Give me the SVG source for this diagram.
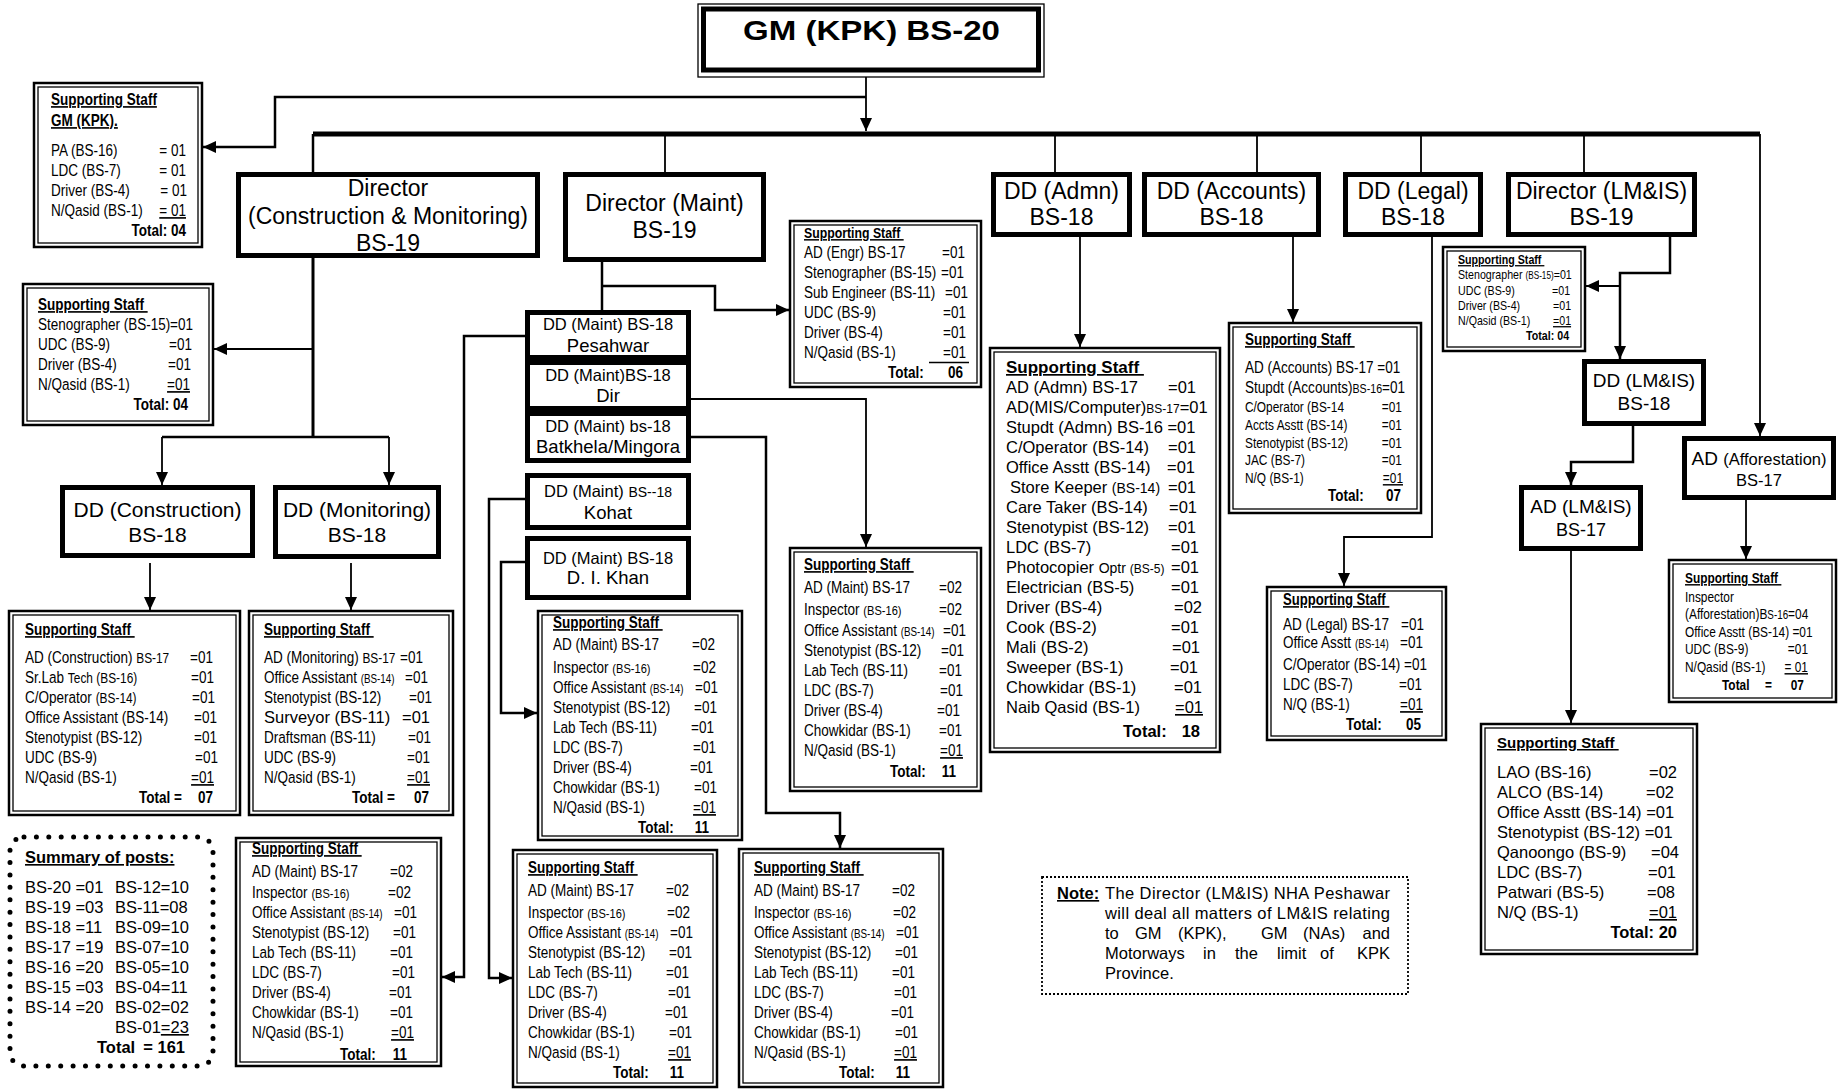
<svg xmlns="http://www.w3.org/2000/svg" width="1844" height="1090" viewBox="0 0 1844 1090" font-size="16.5">
<defs>
<marker id="ah" markerUnits="userSpaceOnUse" markerWidth="14" markerHeight="14" viewBox="0 0 14 14" refX="13" refY="7" orient="auto"><path d="M0,1 L13,7 L0,13 z" fill="#000"/></marker>
<style>
.bx{fill:#fff;stroke:#000;stroke-width:5}
.so{fill:#fff;stroke:#000;stroke-width:2.5}
.si{fill:none;stroke:#000;stroke-width:1.3}
.ln{fill:none;stroke:#000;stroke-width:2.5}
.lt{fill:none;stroke:#000;stroke-width:1.8}
.ar{marker-end:url(#ah)}
text{font-family:'Liberation Sans',Arial,sans-serif;fill:#000}
.n{transform-box:fill-box;transform-origin:0 0;transform:scaleX(0.82)}
.n.e{transform-origin:100% 0}
.b{font-weight:bold}
.u{text-decoration:underline}
.e{text-anchor:end}
.m{text-anchor:middle}
.big{font-size:23px}
.md{font-size:21px}
</style>
</defs>
<rect width="1844" height="1090" fill="#fff"/>

<g id="connectors">
<path class="lt ar" d="M866,72 V131"/>
<path class="ln ar" d="M866,97 H275 V147 H203"/>
<path d="M313,134 H1760" fill="none" stroke="#000" stroke-width="5"/>
<path class="ln" d="M313,134 V172"/>
<path class="lt" d="M665,134 V172 M1055,134 V172 M1257,134 V172 M1421,134 V172 M1584,134 V172"/>
<path class="lt ar" d="M1760,134 V436"/>
<path d="M313,258 V437" fill="none" stroke="#000" stroke-width="3"/>
<path class="lt ar" d="M313,349 H214"/>
<path class="ln" d="M162,437 H389"/>
<path class="lt ar" d="M162,437 V485"/>
<path class="lt ar" d="M389,437 V485"/>
<path class="lt ar" d="M150,563 V610"/>
<path class="lt ar" d="M351,563 V610"/>
<path class="ln" d="M602,262 V310"/>
<path class="ln ar" d="M602,286 H715 V310 H789"/>
<path class="ln ar" d="M525,336 H464 V977 H442"/>
<path class="lt ar" d="M691,399 H866 V547"/>
<path class="ln ar" d="M691,437 H766 V813 H840 V848"/>
<path class="ln ar" d="M525,499 H489 V978 H512"/>
<path class="ln ar" d="M525,562 H501 V713 H537"/>
<path class="lt ar" d="M1080,237 V347"/>
<path class="lt ar" d="M1293,237 V322"/>
<path class="lt ar" d="M1432,237 V537 H1344 V586"/>
<path class="ln ar" d="M1670,237 V273 H1620 V359"/>
<path class="lt ar" d="M1620,286 H1586"/>
<path class="ln ar" d="M1633,426 V462 H1571 V485"/>
<path class="lt ar" d="M1571,551 V723"/>
<path class="lt ar" d="M1746,500 V559"/>
</g>

<g id="gm">
<rect x="698" y="4" width="346" height="73" fill="#fff" stroke="#000" stroke-width="1.3"/>
<rect x="703.5" y="9" width="335" height="61" fill="none" stroke="#000" stroke-width="5"/>
<text class="b" x="743" y="39.5" font-size="28" textLength="257" lengthAdjust="spacingAndGlyphs">GM (KPK) BS-20</text>
</g>

<g id="dir-cm">
<rect class="bx" x="238.5" y="174.5" width="299" height="81"/>
<text class="m big" x="388" y="196">Director</text>
<text class="m big" x="388" y="224">(Construction &amp; Monitoring)</text>
<text class="m big" x="388" y="251">BS-19</text>
</g>
<g id="dir-maint">
<rect class="bx" x="565.5" y="174.5" width="198" height="85"/>
<text class="m big" x="664.5" y="211">Director (Maint)</text>
<text class="m big" x="664.5" y="238">BS-19</text>
</g>
<g id="dd-admn">
<rect class="bx" x="993.5" y="174.5" width="136" height="60"/>
<text class="m big" x="1061.5" y="199">DD (Admn)</text>
<text class="m big" x="1061.5" y="225">BS-18</text>
</g>
<g id="dd-accounts">
<rect class="bx" x="1144.5" y="174.5" width="174" height="60"/>
<text class="m big" x="1231.5" y="199">DD (Accounts)</text>
<text class="m big" x="1231.5" y="225">BS-18</text>
</g>
<g id="dd-legal">
<rect class="bx" x="1345.5" y="174.5" width="135" height="60"/>
<text class="m big" x="1413" y="199">DD (Legal)</text>
<text class="m big" x="1413" y="225">BS-18</text>
</g>
<g id="dir-lmis">
<rect class="bx" x="1508.5" y="174.5" width="186" height="60"/>
<text class="m big" x="1601.5" y="199">Director (LM&amp;IS)</text>
<text class="m big" x="1601.5" y="225">BS-19</text>
</g>
<g id="dd-construction">
<rect class="bx" x="62.5" y="487.5" width="190" height="68"/>
<text class="m md" x="157.5" y="517">DD (Construction)</text>
<text class="m md" x="157.5" y="542">BS-18</text>
</g>
<g id="dd-monitoring">
<rect class="bx" x="275.5" y="487.5" width="163" height="69"/>
<text class="m md" x="357" y="517">DD (Monitoring)</text>
<text class="m md" x="357" y="542">BS-18</text>
</g>
<g id="dd-peshawar">
<rect class="bx" x="527.5" y="312.5" width="161" height="45"/>
<text class="m" x="608" y="330">DD (Maint) BS-18</text>
<text class="m" x="608" y="352" font-size="18.5">Pesahwar</text>
</g>
<g id="dd-dir">
<rect class="bx" x="527.5" y="362.5" width="161" height="46"/>
<text class="m" x="608" y="381">DD (Maint)BS-18</text>
<text class="m" x="608" y="402" font-size="18.5">Dir</text>
</g>
<g id="dd-batkhela">
<rect class="bx" x="527.5" y="413.5" width="161" height="47"/>
<text class="m" x="608" y="432">DD (Maint) bs-18</text>
<text class="m" x="608" y="453" font-size="18.5">Batkhela/Mingora</text>
</g>
<g id="dd-kohat">
<rect class="bx" x="527.5" y="475.5" width="161" height="52"/>
<text class="m" x="608" y="497">DD (Maint) <tspan font-size="14">BS--18</tspan></text>
<text class="m" x="608" y="519" font-size="18.5">Kohat</text>
</g>
<g id="dd-dikhan">
<rect class="bx" x="527.5" y="538.5" width="161" height="59"/>
<text class="m" x="608" y="564">DD (Maint) BS-18</text>
<text class="m" x="608" y="584" font-size="18.5">D. I. Khan</text>
</g>
<g id="dd-lmis">
<rect class="bx" x="1584.5" y="361.5" width="119" height="62"/>
<text class="m" x="1644" y="387" font-size="19">DD (LM&amp;IS)</text>
<text class="m" x="1644" y="410" font-size="19">BS-18</text>
</g>
<g id="ad-lmis">
<rect class="bx" x="1521.5" y="487.5" width="119" height="61"/>
<text class="m" x="1581" y="513" font-size="19">AD (LM&amp;IS)</text>
<text class="m" x="1581" y="536" font-size="18">BS-17</text>
</g>
<g id="ad-afforestation">
<rect class="bx" x="1684.5" y="438.5" width="149" height="59"/>
<text class="m" x="1759" y="465"><tspan font-size="19">AD </tspan>(Afforestation)</text>
<text class="m" x="1759" y="486">BS-17</text>
</g>

<g id="ss-gm">
<rect class="so" x="34" y="83" width="168" height="164"/>
<rect class="si" x="38" y="87" width="160" height="156"/>
<text class="n b u" x="51" y="105">Supporting Staff</text>
<text class="n b u" x="51" y="126">GM (KPK).</text>
<text class="n" x="51" y="156">PA (BS-16)</text><text class="n e" x="186" y="156">= 01</text>
<text class="n" x="51" y="176">LDC (BS-7)</text><text class="n e" x="186" y="176">= 01</text>
<text class="n" x="51" y="196">Driver (BS-4)</text><text class="n e" x="187" y="196">= 01</text>
<text class="n" x="51" y="216">N/Qasid (BS-1)</text><text class="n e u" x="186" y="216">= 01</text>
<text class="n b e" x="186" y="236">Total: 04</text>
</g>

<g id="ss-cm">
<rect class="so" x="23" y="284" width="190" height="141"/>
<rect class="si" x="27" y="288" width="182" height="133"/>
<text class="n b u" x="38" y="310">Supporting Staff&#160;</text>
<text class="n" x="38" y="330">Stenographer (BS-15)</text><text class="n e" x="193" y="330">=01</text>
<text class="n" x="38" y="350">UDC (BS-9)</text><text class="n e" x="192" y="350">=01</text>
<text class="n" x="38" y="370">Driver (BS-4)</text><text class="n e" x="191" y="370">=01</text>
<text class="n" x="38" y="390">N/Qasid (BS-1)</text><text class="n e u" x="190" y="390">=01</text>
<text class="n b e" x="188" y="410">Total: 04</text>
</g>

<g id="ss-construction">
<rect class="so" x="9" y="611" width="231" height="204"/>
<rect class="si" x="13" y="615" width="223" height="196"/>
<text class="n b u" x="25" y="635">Supporting Staff&#160;</text>
<text class="n" x="25" y="663">AD (Construction) <tspan font-size="14.5">BS-17</tspan></text><text class="n e" x="213" y="663">=01</text>
<text class="n" x="25" y="683">Sr.Lab <tspan font-size="14.5">Tech (BS-16)</tspan></text><text class="n e" x="214" y="683">=01</text>
<text class="n" x="25" y="703">C/Operator <tspan font-size="14.5">(BS-14)</tspan></text><text class="n e" x="215" y="703">=01</text>
<text class="n" x="25" y="723">Office Assistant (BS-14)</text><text class="n e" x="217" y="723">=01</text>
<text class="n" x="25" y="743">Stenotypist  (BS-12)</text><text class="n e" x="217" y="743">=01</text>
<text class="n" x="25" y="763">UDC (BS-9)</text><text class="n e" x="218" y="763">=01</text>
<text class="n" x="25" y="783">N/Qasid (BS-1)</text><text class="n e u" x="214" y="783">=01</text>
<text class="n b" x="139" y="803">Total =</text><text class="n b e" x="213" y="803">07</text>
</g>

<g id="ss-monitoring">
<rect class="so" x="249" y="611" width="204" height="204"/>
<rect class="si" x="253" y="615" width="196" height="196"/>
<text class="n b u" x="264" y="635">Supporting Staff&#160;</text>
<text class="n" x="264" y="663">AD (Monitoring) <tspan font-size="14.5">BS-17</tspan></text><text class="n e" x="423" y="663">=01</text>
<text class="n" x="264" y="683">Office Assistant <tspan font-size="12">(BS-14)</tspan></text><text class="n e" x="428" y="683">=01</text>
<text class="n" x="264" y="703">Stenotypist  (BS-12)</text><text class="n e" x="432" y="703">=01</text>
<text x="264" y="723">Surveyor (BS-11)</text><text class="e" x="430" y="723">=01</text>
<text class="n" x="264" y="743">Draftsman (BS-11)</text><text class="n e" x="431" y="743">=01</text>
<text class="n" x="264" y="763">UDC (BS-9)</text><text class="n e" x="430" y="763">=01</text>
<text class="n" x="264" y="783">N/Qasid (BS-1)</text><text class="n e u" x="430" y="783">=01</text>
<text class="n b" x="352" y="803">Total =</text><text class="n b e" x="429" y="803">07</text>
</g>

<g id="ss-peshawar">
<rect class="so" x="236" y="838" width="205" height="228"/>
<rect class="si" x="240" y="842" width="197" height="220"/>
<text class="n b u" x="252" y="854">Supporting Staff&#160;</text>
<text class="n" x="252" y="877">AD (Maint) BS-17</text><text class="n e" x="413" y="877">=02</text>
<text class="n" x="252" y="898">Inspector <tspan font-size="13.5">(BS-16)</tspan></text><text class="n e" x="411" y="898">=02</text>
<text class="n" x="252" y="918">Office Assistant  <tspan font-size="12">(BS-14)</tspan></text><text class="n e" x="417" y="918">=01</text>
<text class="n" x="252" y="938">Stenotypist (BS-12)</text><text class="n e" x="416" y="938">=01</text>
<text class="n" x="252" y="958">Lab Tech (BS-11)</text><text class="n e" x="413" y="958">=01</text>
<text class="n" x="252" y="978">LDC (BS-7)</text><text class="n e" x="415" y="978">=01</text>
<text class="n" x="252" y="998">Driver (BS-4)</text><text class="n e" x="412" y="998">=01</text>
<text class="n" x="252" y="1018">Chowkidar (BS-1)</text><text class="n e" x="413" y="1018">=01</text>
<text class="n" x="252" y="1038">N/Qasid (BS-1)</text><text class="n e u" x="414" y="1038">=01</text>
<text class="n b" x="340" y="1060">Total:</text><text class="n b e" x="407" y="1060">11</text>
</g>

<g id="ss-maint">
<rect class="so" x="790" y="221" width="191" height="166"/>
<rect class="si" x="794" y="225" width="183" height="158"/>
<text class="n b u" x="804" y="238" font-size="15">Supporting Staff&#160;</text>
<text class="n" x="804" y="258">AD (Engr) BS-17</text><text class="n e" x="965" y="258">=01</text>
<text class="n" x="804" y="278">Stenographer (BS-15)</text><text class="n e" x="964" y="278">=01</text>
<text class="n" x="804" y="298">Sub Engineer (BS-11)</text><text class="n e" x="968" y="298">=01</text>
<text class="n" x="804" y="318">UDC (BS-9)</text><text class="n e" x="966" y="318">=01</text>
<text class="n" x="804" y="338">Driver (BS-4)</text><text class="n e" x="966" y="338">=01</text>
<text class="n" x="804" y="358">N/Qasid (BS-1)</text><text class="n e" x="966" y="358">=01</text>
<path d="M929,362.5 H969" stroke="#000" stroke-width="1.3"/>
<text class="n b" x="888" y="378">Total:</text><text class="n b e" x="963" y="378">06</text>
</g>

<g id="ss-dir">
<rect class="so" x="790" y="548" width="191" height="243"/>
<rect class="si" x="794" y="552" width="183" height="235"/>
<text class="n b u" x="804" y="570">Supporting Staff&#160;</text>
<text class="n" x="804" y="593">AD (Maint) BS-17</text><text class="n e" x="962" y="593">=02</text>
<text class="n" x="804" y="615">Inspector <tspan font-size="13.5">(BS-16)</tspan></text><text class="n e" x="962" y="615">=02</text>
<text class="n" x="804" y="636">Office Assistant  <tspan font-size="12">(BS-14)</tspan></text><text class="n e" x="966" y="636">=01</text>
<text class="n" x="804" y="656">Stenotypist (BS-12)</text><text class="n e" x="964" y="656">=01</text>
<text class="n" x="804" y="676">Lab Tech (BS-11)</text><text class="n e" x="962" y="676">=01</text>
<text class="n" x="804" y="696">LDC (BS-7)</text><text class="n e" x="963" y="696">=01</text>
<text class="n" x="804" y="716">Driver (BS-4)</text><text class="n e" x="960" y="716">=01</text>
<text class="n" x="804" y="736">Chowkidar (BS-1)</text><text class="n e" x="962" y="736">=01</text>
<text class="n" x="804" y="756">N/Qasid (BS-1)</text><text class="n e u" x="963" y="756">=01</text>
<text class="n b" x="890" y="777">Total:</text><text class="n b e" x="956" y="777">11</text>
</g>

<g id="ss-dikhan">
<rect class="so" x="538" y="611" width="204" height="229"/>
<rect class="si" x="542" y="615" width="196" height="221"/>
<text class="n b u" x="553" y="628">Supporting Staff&#160;</text>
<text class="n" x="553" y="650">AD (Maint) BS-17</text><text class="n e" x="715" y="650">=02</text>
<text class="n" x="553" y="673">Inspector <tspan font-size="13.5">(BS-16)</tspan></text><text class="n e" x="716" y="673">=02</text>
<text class="n" x="553" y="693">Office Assistant  <tspan font-size="12">(BS-14)</tspan></text><text class="n e" x="718" y="693">=01</text>
<text class="n" x="553" y="713">Stenotypist (BS-12)</text><text class="n e" x="717" y="713">=01</text>
<text class="n" x="553" y="733">Lab Tech (BS-11)</text><text class="n e" x="714" y="733">=01</text>
<text class="n" x="553" y="753">LDC (BS-7)</text><text class="n e" x="716" y="753">=01</text>
<text class="n" x="553" y="773">Driver (BS-4)</text><text class="n e" x="713" y="773">=01</text>
<text class="n" x="553" y="793">Chowkidar (BS-1)</text><text class="n e" x="717" y="793">=01</text>
<text class="n" x="553" y="813">N/Qasid (BS-1)</text><text class="n e u" x="716" y="813">=01</text>
<text class="n b" x="638" y="833">Total:</text><text class="n b e" x="709" y="833">11</text>
</g>

<g id="ss-kohat">
<rect class="so" x="513" y="850" width="204" height="237"/>
<rect class="si" x="517" y="854" width="196" height="229"/>
<text class="n b u" x="528" y="873">Supporting Staff&#160;</text>
<text class="n" x="528" y="896">AD (Maint) BS-17</text><text class="n e" x="689" y="896">=02</text>
<text class="n" x="528" y="918">Inspector <tspan font-size="13.5">(BS-16)</tspan></text><text class="n e" x="690" y="918">=02</text>
<text class="n" x="528" y="938">Office Assistant  <tspan font-size="12">(BS-14)</tspan></text><text class="n e" x="693" y="938">=01</text>
<text class="n" x="528" y="958">Stenotypist (BS-12)</text><text class="n e" x="692" y="958">=01</text>
<text class="n" x="528" y="978">Lab Tech (BS-11)</text><text class="n e" x="689" y="978">=01</text>
<text class="n" x="528" y="998">LDC (BS-7)</text><text class="n e" x="691" y="998">=01</text>
<text class="n" x="528" y="1018">Driver (BS-4)</text><text class="n e" x="688" y="1018">=01</text>
<text class="n" x="528" y="1038">Chowkidar (BS-1)</text><text class="n e" x="692" y="1038">=01</text>
<text class="n" x="528" y="1058">N/Qasid (BS-1)</text><text class="n e u" x="691" y="1058">=01</text>
<text class="n b" x="613" y="1078">Total:</text><text class="n b e" x="684" y="1078">11</text>
</g>

<g id="ss-batkhela">
<rect class="so" x="739" y="849" width="204" height="238"/>
<rect class="si" x="743" y="853" width="196" height="230"/>
<text class="n b u" x="754" y="873">Supporting Staff&#160;</text>
<text class="n" x="754" y="896">AD (Maint) BS-17</text><text class="n e" x="915" y="896">=02</text>
<text class="n" x="754" y="918">Inspector <tspan font-size="13.5">(BS-16)</tspan></text><text class="n e" x="916" y="918">=02</text>
<text class="n" x="754" y="938">Office Assistant  <tspan font-size="12">(BS-14)</tspan></text><text class="n e" x="919" y="938">=01</text>
<text class="n" x="754" y="958">Stenotypist (BS-12)</text><text class="n e" x="918" y="958">=01</text>
<text class="n" x="754" y="978">Lab Tech (BS-11)</text><text class="n e" x="915" y="978">=01</text>
<text class="n" x="754" y="998">LDC (BS-7)</text><text class="n e" x="917" y="998">=01</text>
<text class="n" x="754" y="1018">Driver (BS-4)</text><text class="n e" x="914" y="1018">=01</text>
<text class="n" x="754" y="1038">Chowkidar (BS-1)</text><text class="n e" x="918" y="1038">=01</text>
<text class="n" x="754" y="1058">N/Qasid (BS-1)</text><text class="n e u" x="917" y="1058">=01</text>
<text class="n b" x="839" y="1078">Total:</text><text class="n b e" x="910" y="1078">11</text>
</g>

<g id="ss-admn">
<rect class="so" x="990" y="348" width="230" height="404"/>
<rect class="si" x="994" y="352" width="222" height="396"/>
<text class="b u" x="1006" y="373" font-size="17">Supporting Staff&#160;</text>
<text x="1006" y="393">AD (Admn) BS-17</text><text class="e" x="1196" y="393">=01</text>
<text x="1006" y="413">AD(MIS/Computer)<tspan font-size="12">BS-17</tspan>=01</text>
<text x="1006" y="433">Stupdt (Admn) BS-16 =01</text>
<text x="1006" y="453">C/Operator (BS-14)</text><text class="e" x="1196" y="453">=01</text>
<text x="1006" y="473">Office Asstt (BS-14)</text><text class="e" x="1195" y="473">=01</text>
<text x="1010" y="493">Store Keeper <tspan font-size="14">(BS-14)</tspan></text><text class="e" x="1196" y="493">=01</text>
<text x="1006" y="513">Care Taker (BS-14)</text><text class="e" x="1197" y="513">=01</text>
<text x="1006" y="533">Stenotypist (BS-12)</text><text class="e" x="1196" y="533">=01</text>
<text x="1006" y="553">LDC (BS-7)</text><text class="e" x="1199" y="553">=01</text>
<text x="1006" y="573">Photocopier <tspan font-size="14">Optr </tspan><tspan font-size="12">(BS-5)</tspan></text><text class="e" x="1199" y="573">=01</text>
<text x="1006" y="593">Electrician (BS-5)</text><text class="e" x="1199" y="593">=01</text>
<text x="1006" y="613">Driver (BS-4)</text><text class="e" x="1202" y="613">=02</text>
<text x="1006" y="633">Cook (BS-2)</text><text class="e" x="1199" y="633">=01</text>
<text x="1006" y="653">Mali (BS-2)</text><text class="e" x="1200" y="653">=01</text>
<text x="1006" y="673">Sweeper (BS-1)</text><text class="e" x="1198" y="673">=01</text>
<text x="1006" y="693">Chowkidar (BS-1)</text><text class="e" x="1202" y="693">=01</text>
<text x="1006" y="713">Naib Qasid (BS-1)</text><text class="e u" x="1203" y="713">=01</text>
<text class="b" x="1123" y="737">Total:</text><text class="b e" x="1200" y="737">18</text>
</g>

<g id="ss-accounts">
<rect class="so" x="1229" y="323" width="192" height="190"/>
<rect class="si" x="1233" y="327" width="184" height="182"/>
<text class="n b u" x="1245" y="345">Supporting Staff&#160;</text>
<text class="n" x="1245" y="373">AD (Accounts) BS-17 =01</text>
<text class="n" x="1245" y="393">Stupdt (Accounts)<tspan font-size="13">BS-16</tspan>=01</text>
<text class="n" x="1245" y="412" font-size="14.5">C/Operator (BS-14</text><text class="n e" x="1402" y="412" font-size="14.5">=01</text>
<text class="n" x="1245" y="430" font-size="14.5">Accts Asstt (BS-14)</text><text class="n e" x="1402" y="430" font-size="14.5">=01</text>
<text class="n" x="1245" y="448" font-size="14.5">Stenotypist (BS-12)</text><text class="n e" x="1402" y="448" font-size="14.5">=01</text>
<text class="n" x="1245" y="465" font-size="14.5">JAC  (BS-7)</text><text class="n e" x="1402" y="465" font-size="14.5">=01</text>
<text class="n" x="1245" y="483" font-size="14.5">N/Q (BS-1)</text><text class="n e u" x="1403" y="483" font-size="14.5">=01</text>
<text class="n b" x="1328" y="501">Total:</text><text class="n b e" x="1401" y="501">07</text>
</g>

<g id="ss-legal">
<rect class="so" x="1267" y="587" width="179" height="153"/>
<rect class="si" x="1271" y="591" width="171" height="145"/>
<text class="n b u" x="1283" y="605" font-size="16">Supporting Staff&#160;</text>
<text class="n" x="1283" y="630" font-size="16.5">AD (Legal) BS-17</text><text class="n e" x="1424" y="630" font-size="16.5">=01</text>
<text class="n" x="1283" y="648" font-size="16.5">Office Asstt <tspan font-size="12">(BS-14)</tspan></text><text class="n e" x="1423" y="648" font-size="16.5">=01</text>
<text class="n" x="1283" y="670" font-size="16.5">C/Operator (BS-14)</text><text class="n e" x="1427" y="670" font-size="16.5">=01</text>
<text class="n" x="1283" y="690" font-size="16.5">LDC (BS-7)</text><text class="n e" x="1422" y="690" font-size="16.5">=01</text>
<text class="n" x="1283" y="710" font-size="16.5">N/Q (BS-1)</text><text class="n e u" x="1423" y="710" font-size="16.5">=01</text>
<text class="n b" x="1346" y="730" font-size="16.5">Total:</text><text class="n b e" x="1421" y="730" font-size="16.5">05</text>
</g>

<g id="ss-lmis">
<rect class="so" x="1443" y="247" width="142" height="104"/>
<rect class="si" x="1447" y="251" width="134" height="96"/>
<text class="n b u" x="1458" y="264" font-size="13">Supporting Staff&#160;</text>
<text class="n" x="1458" y="279" font-size="13">Stenographer <tspan font-size="10">(BS-15)</tspan>=01</text>
<text class="n" x="1458" y="295" font-size="13">UDC (BS-9)</text><text class="n e" x="1570" y="295" font-size="13">=01</text>
<text class="n" x="1458" y="310" font-size="13">Driver (BS-4)</text><text class="n e" x="1571" y="310" font-size="13">=01</text>
<text class="n" x="1458" y="325" font-size="13">N/Qasid (BS-1)</text><text class="n e u" x="1571" y="325" font-size="13">=01</text>
<text class="n b e" x="1569" y="340" font-size="13">Total: 04</text>
</g>

<g id="ss-afforestation">
<rect class="so" x="1669" y="560" width="167" height="142"/>
<rect class="si" x="1673" y="564" width="159" height="134"/>
<text class="n b u" x="1685" y="583" font-size="14.5">Supporting Staff&#160;</text>
<text class="n" x="1685" y="602" font-size="14.5">Inspector</text>
<text class="n" x="1685" y="619" font-size="14.5">(Afforestation)B<tspan font-size="12">S-16</tspan>=04</text>
<text class="n" x="1685" y="637" font-size="14.5">Office Asstt (BS-14) =01</text>
<text class="n" x="1685" y="654" font-size="14.5">UDC (BS-9)</text><text class="n e" x="1808" y="654" font-size="14.5">=01</text>
<text class="n" x="1685" y="672" font-size="14.5">N/Qasid (BS-1)</text><text class="n e u" x="1808" y="672" font-size="14.5">= 01</text>
<text class="n b" x="1722" y="690" font-size="14.5">Total</text><text class="n b" x="1765" y="690" font-size="14.5">=</text><text class="n b e" x="1804" y="690" font-size="14.5">07</text>
</g>

<g id="ss-ad-lmis">
<rect class="so" x="1481" y="724" width="216" height="230"/>
<rect class="si" x="1485" y="728" width="208" height="222"/>
<text class="b u" x="1497" y="748" font-size="15">Supporting Staff&#160;</text>
<text x="1497" y="778">LAO (BS-16)</text><text class="e" x="1677" y="778">=02</text>
<text x="1497" y="798">ALCO (BS-14)</text><text class="e" x="1674" y="798">=02</text>
<text x="1497" y="818">Office Asstt (BS-14) =01</text>
<text x="1497" y="838">Stenotypist (BS-12) =01</text>
<text x="1497" y="858">Qanoongo  (BS-9)</text><text class="e" x="1679" y="858">=04</text>
<text x="1497" y="878">LDC (BS-7)</text><text class="e" x="1676" y="878">=01</text>
<text x="1497" y="898">Patwari (BS-5)</text><text class="e" x="1675" y="898">=08</text>
<text x="1497" y="918">N/Q (BS-1)</text><text class="e u" x="1677" y="918">=01</text>
<text class="b e" x="1677" y="938">Total: 20</text>
</g>

<g id="summary">
<rect x="10" y="837" width="203" height="229" rx="14" fill="#fff" stroke="#000" stroke-width="5" stroke-linecap="round" stroke-dasharray="0 12.4"/>
<text class="b u" x="25" y="863">Summary of posts:</text>
<text x="25" y="893">BS-20 =01</text><text x="115" y="893">BS-12=10</text>
<text x="25" y="913">BS-19 =03</text><text x="115" y="913">BS-11=08</text>
<text x="25" y="933">BS-18 =11</text><text x="115" y="933">BS-09=10</text>
<text x="25" y="953">BS-17 =19</text><text x="115" y="953">BS-07=10</text>
<text x="25" y="973">BS-16 =20</text><text x="115" y="973">BS-05=10</text>
<text x="25" y="993">BS-15 =03</text><text x="115" y="993">BS-04=11</text>
<text x="25" y="1013">BS-14 =20</text><text x="115" y="1013">BS-02=02</text>
<text x="115" y="1033">BS-01<tspan text-decoration="underline">=23</tspan></text>
<text class="b" x="97" y="1053">Total</text><text class="b e" x="185" y="1053">= 161</text>
</g>

<g id="note">
<rect x="1042" y="877" width="366" height="117" fill="#fff" stroke="#000" stroke-width="1.8" stroke-dasharray="2 2"/>
<text class="b u" x="1057" y="899">Note:</text>
<text x="1105" y="899" textLength="285" lengthAdjust="spacing">The Director (LM&amp;IS) NHA Peshawar</text>
<text x="1105" y="919" textLength="285" lengthAdjust="spacing">will deal all matters of LM&amp;IS relating</text>
<text x="1105" y="939">to</text><text x="1135" y="939">GM</text><text x="1178" y="939">(KPK),</text><text x="1261" y="939">GM</text><text x="1303" y="939">(NAs)</text><text class="e" x="1390" y="939">and</text>
<text x="1105" y="959">Motorways</text><text x="1203" y="959">in</text><text x="1235" y="959">the</text><text x="1277" y="959">limit</text><text x="1320" y="959">of</text><text class="e" x="1390" y="959">KPK</text>
<text x="1105" y="979">Province.</text>
</g>
</svg>
